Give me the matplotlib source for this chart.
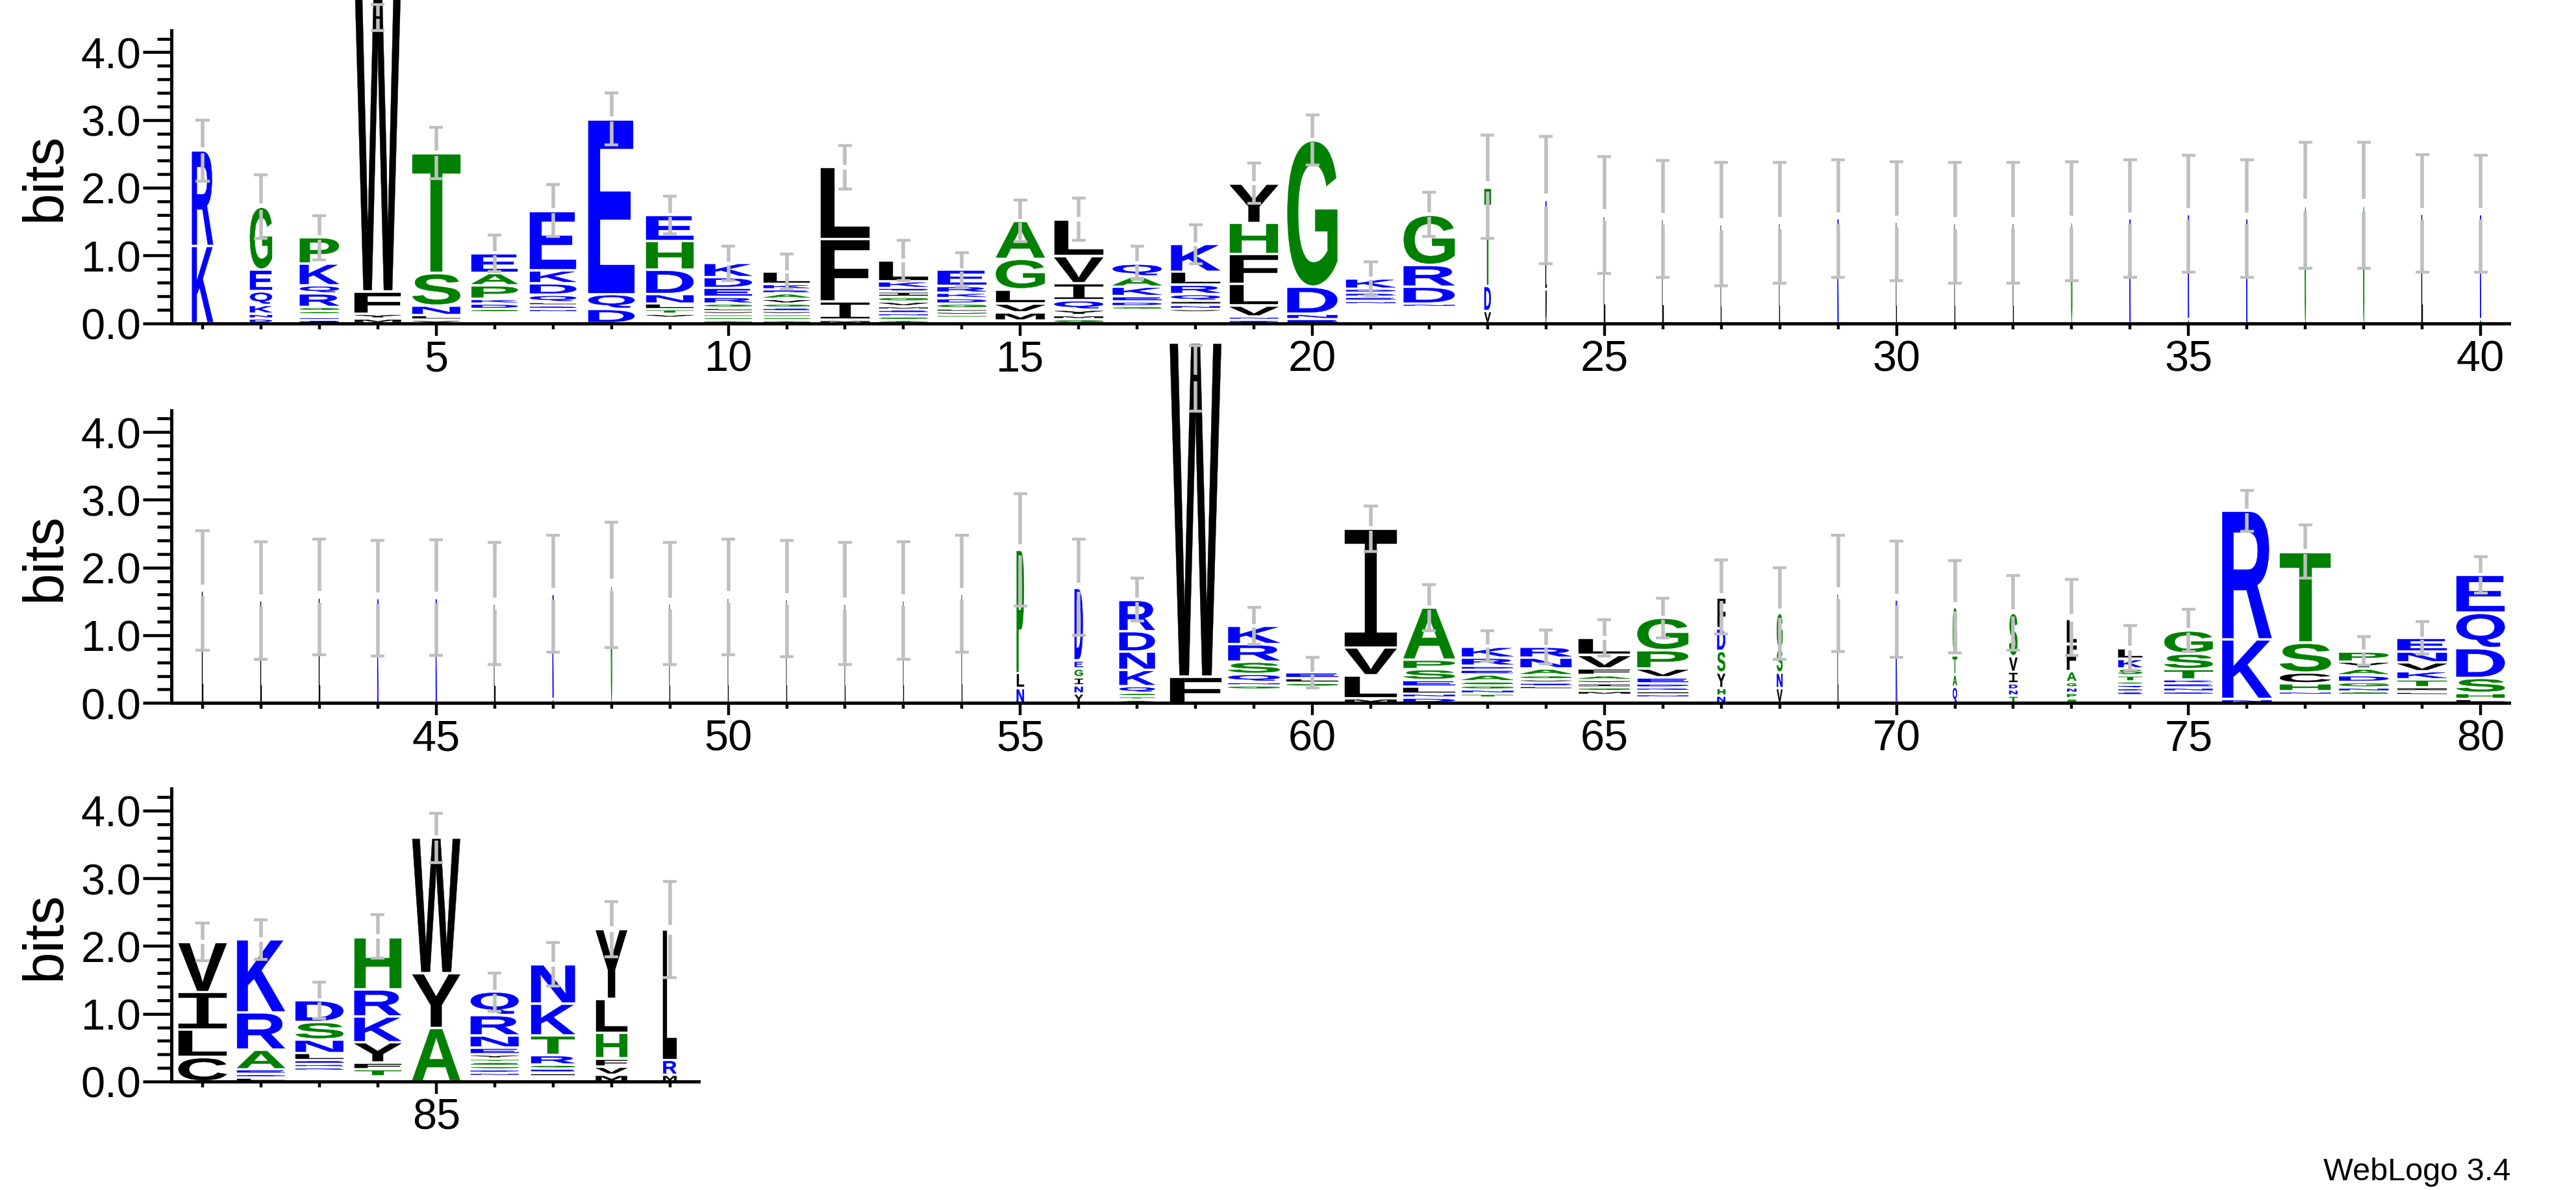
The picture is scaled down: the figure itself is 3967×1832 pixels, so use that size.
import matplotlib
matplotlib.use("Agg")
import matplotlib.pyplot as plt
from matplotlib.textpath import TextPath
from matplotlib.patches import PathPatch
from matplotlib.font_manager import FontProperties
from matplotlib.transforms import Affine2D
from matplotlib.ticker import MultipleLocator, FormatStrFormatter

plt.rcParams["font.family"] = ["Liberation Sans", "DejaVu Sans"]

# ---- data: stacks bottom -> top, per logo row ----
row1_start = 1
row1_letters = [
    "KR", "DNKQEG", "EDASGRQKP", "MYFW", "VLNST", "ATVNGDKPAE", "AVTGNRLQDKE",
    "DQE", "ASVTLNDHE", "ASTVLGREDK", "ASTVEGVARKL", "MIFL", "ASNEMVGIEKL",
    "ASTVLGDKRE", "IMVLGA", "GMYQIVL", "ASTNVGDEKAQ", "ASTGVNIQRLK", "DNVLFHY",
    "ENDG", "ASTGVMYNERDK", "ASTVGENDRG", "VDT", "VLIRK",
    "L", "L", "L", "L", "K", "L", "L", "L", "G", "K", "AK", "K", "G", "G", "L", "AK",
]
row1_heights = [
    [1.14, 1.41], [.07, .07, .13, .2, .32, .93],
    [.045, .045, .04, .05, .06, .2, .12, .32, .39], [.07, .07, .33, 4.6],
    [.05, .07, .14, .48, 1.77], [.04, .04, .04, .04, .05, .08, .07, .2, .18, .29],
    [.04, .04, .04, .04, .05, .05, .05, .11, .17, .19, .88], [.21, .22, 2.58],
    [.04, .04, .06, .07, .08, .14, .36, .42, .39],
    [.045, .045, .045, .045, .05, .06, .1, .13, .16, .21],
    [.045, .045, .045, .045, .05, .06, .07, .08, .06, .08, .18], [.05, .27, .92, 1.07],
    [.05, .05, .05, .05, .05, .07, .07, .08, .05, .1, .31],
    [.04, .04, .045, .045, .05, .07, .08, .08, .1, .24], [.04, .12, .13, .21, .45, .56],
    [.06, .06, .08, .14, .25, .4, .54],
    [.04, .04, .04, .04, .04, .05, .07, .08, .14, .15, .19],
    [.04, .04, .04, .04, .05, .06, .06, .1, .14, .19, .41],
    [.05, .05, .16, .32, .44, .46, .58], [.06, .08, .4, 2.16],
    [.04, .04, .04, .04, .04, .04, .04, .05, .06, .06, .06, .15],
    [.04, .04, .04, .04, .04, .04, .05, .25, .32, .74], [.18, .37, 1.45],
    [.5, .38, .3, .3, .34],
    [1.59], [1.54], [1.46], [1.48], [1.55], [1.50], [1.48], [1.48], [1.50], [1.55],
    [.06, 1.55], [1.55], [1.74], [1.74], [1.62], [.06, 1.55],
]
row1_width = [.41, .43, .76, .9, .93, .9, .9, .9, .92, .92, .9, .95, .95, .95, .95, .95,
              .95, .95, .94, .97, .96, .99, .125, .02] + [.02] * 16
row1_err_low = [2.10, 1.25, .94, 4.32, 2.13, .76, 1.28, 2.63, 1.32, .63, .50, 1.98, .63, .54,
                1.20, 1.22, .65, .88, 1.77, 2.34, .41, 1.28, 1.25, .88, .73, .68, .55, .59,
                .68, .63, .59, .59, .63, .68, .75, .68, .81, .81, .75, .75]
row1_err_high = [3.00, 2.19, 1.59, 4.70, 2.89, 1.30, 2.05, 3.40, 1.88, 1.14, 1.02, 2.62, 1.22,
                 1.04, 1.82, 1.85, 1.14, 1.45, 2.36, 3.07, .91, 1.93, 2.78, 2.76, 2.46, 2.40,
                 2.37, 2.37, 2.41, 2.38, 2.37, 2.37, 2.38, 2.41, 2.48, 2.41, 2.67, 2.67, 2.49,
                 2.48]

row2_start = 41
row2_letters = [
    "L", "L", "L", "K", "K", "L", "AK", "G", "L", "L", "L", "L", "L", "L",
    "NLP", "YNIGED", "ATGQKNDR", "FW", "ATVELGNQSRK", "ASTVNDGLE", "MLVI", "DNLESPA",
    "AVTNGSAEDRK", "ASTVQLEVGANR", "ASTMGIYAFVL", "ATNLKDEVPG", "NHYSDF", "VNSG",
    "L", "K", "QATG", "TNDIVS", "SPNGAFL", "AVNEDQGTSKL", "AVMDNEKTSG", "NKR",
    "AGVNHCST", "ATVSNGDAYP", "AGSLITKVNE", "LHSDQE",
]
row2_heights = [
    [1.66], [1.52], [1.56], [1.55], [1.55], [1.47], [.06, 1.55], [1.74], [1.47], [1.56],
    [1.54], [1.47], [1.52], [1.61],
    [.22, .22, 1.82], [.14, .12, .12, .13, .12, 1.07], [.05, .05, .05, .1, .24, .27, .3, .46],
    [.39, 4.93], [.04, .04, .04, .04, .04, .06, .05, .12, .18, .26, .27],
    [.04, .04, .04, .04, .04, .04, .06, .07, .08], [.07, .34, .41, 1.75],
    [.08, .06, .1, .1, .16, .14, .77], [.04, .04, .06, .06, .06, .06, .1, .07, .06, .12, .16],
    [.04, .04, .04, .04, .04, .05, .05, .05, .06, .1, .16, .16],
    [.04, .04, .04, .06, .05, .06, .05, .07, .1, .2, .25],
    [.04, .04, .05, .05, .05, .06, .09, .13, .27, .48], [.11, .11, .23, .32, .33, .46],
    [.22, .23, .35, .53], [1.62], [1.53], [.24, .18, .28, .72], [.11, .09, .09, .17, .23, .64],
    [.07, .08, .08, .08, .16, .4, .37], [.04, .04, .04, .05, .05, .05, .05, .09, .1, .14, .16],
    [.04, .04, .04, .05, .06, .06, .06, .15, .23, .34], [.06, .88, 1.9],
    [.04, .04, .04, .05, .12, .16, .44, 1.34], [.04, .04, .04, .05, .06, .08, .1, .1, .1, .15],
    [.04, .04, .04, .05, .06, .12, .12, .13, .16, .2], [.06, .09, .22, .44, .52, .56],
]
row2_width = [.02] * 14 + [.14, .16, .69, 1.0, 1.0, 1.0, 1.0, 1.0, 1.0, .99, 1.0, .99, .155,
                           .11, .02, .02, .08, .16, .18, .46, .94, .96, .99, .96, .96, .94]
row2_err_low = [.78, .65, .71, .69, .70, .57, .75, .82, .57, .71, .68, .57, .65, .75, 1.43, 1.0,
                1.21, 4.31, .87, .22, 2.24, 1.07, .62, .58, .69, .96, 1.02, .65, .76, .67, .74,
                .78, .70, .48, .76, 2.53, 1.84, .56, .72, 1.62]
row2_err_high = [2.54, 2.38, 2.42, 2.40, 2.41, 2.37, 2.48, 2.67, 2.37, 2.42, 2.40, 2.37, 2.38,
                 2.48, 3.09, 2.42, 1.84, 5.28, 1.41, .67, 2.91, 1.75, 1.07, 1.08, 1.23, 1.55,
                 2.11, 2.0, 2.48, 2.39, 2.10, 1.88, 1.82, 1.14, 1.38, 3.14, 2.63, .98, 1.20, 2.16]

row3_start = 81
row3_letters = ["CLIV", "LDEARK", "ATVGRKELNSD", "AVTFYKRH", "AYW", "AVNDGSTYENRQ",
                "AVLEGRTKN", "MVFHLY", "MRL"]
row3_heights = [
    [.36, .41, .55, .74], [.06, .05, .07, .29, .55, 1.08],
    [.04, .04, .04, .04, .05, .05, .06, .1, .2, .26, .32], [.04, .04, .1, .1, .3, .38, .4, .77],
    [.79, .81, 2.0], [.04, .04, .05, .05, .05, .06, .05, .06, .1, .18, .3, .35],
    [.04, .04, .05, .06, .06, .14, .29, .47, .58], [.1, .12, .12, .38, .5, 1.03], [.1, .22, 1.92],
]
row3_width = [.94, .93, .93, .91, .93, .93, .85, .61, .26]
row3_err_low = [1.78, 1.80, .93, 1.82, 3.23, 1.04, 1.41, 1.84, 1.53]
row3_err_high = [2.34, 2.39, 1.47, 2.46, 3.96, 1.60, 2.05, 2.66, 2.95]

# hydrophobicity colour scheme
colors = {}
for c in "RKDENQ":
    colors[c] = "#0000ff"
for c in "SGHTAP":
    colors[c] = "#008000"
for c in "YVMCLFIW":
    colors[c] = "#000000"
GREY = "#bfbfbf"

letter_font = FontProperties(family="Liberation Sans", weight="bold")
serif_i_font = FontProperties(family="Liberation Mono", weight="normal")
glyphs = {}


def get_glyph(ch):
    if ch not in glyphs:
        fp = serif_i_font if ch == "I" else letter_font
        p = TextPath((0, 0), ch, size=1, prop=fp)
        glyphs[ch] = (p, p.get_extents())
    return glyphs[ch]


def draw_letter(ax, ch, x, y0, w, h):
    pad = 0.02
    if h - 2 * pad <= 0:
        return
    p, ext = get_glyph(ch)
    t = (Affine2D().translate(-ext.x0, -ext.y0)
         .scale(w / ext.width, (h - 2 * pad) / ext.height)
         .translate(x - w / 2, y0 + pad))
    ax.add_patch(PathPatch(t.transform_path(p), facecolor=colors[ch], edgecolor=colors[ch],
                           linewidth=0.3, clip_on=False, zorder=2))


def draw_errorbar(ax, x, lo, hi):
    c = (lo + hi) / 2
    gap = 0.1 * (hi - lo) / 2
    kw = dict(color=GREY, solid_capstyle="butt", clip_on=False, zorder=3)
    ax.plot([x, x], [c + gap, hi], lw=4, **kw)
    ax.plot([x, x], [lo, c - gap], lw=4, **kw)
    ax.plot([x - 0.117, x + 0.117], [hi, hi], lw=3.2, **kw)
    ax.plot([x - 0.117, x + 0.117], [lo, lo], lw=3.2, **kw)


W, H = 3967, 1833
fig = plt.figure(figsize=(W / 100, H / 100), dpi=100)

rows = [
    (row1_start, row1_letters, row1_heights, row1_width, row1_err_low, row1_err_high, 498.6),
    (row2_start, row2_letters, row2_heights, row2_width, row2_err_low, row2_err_high, 1083.3),
    (row3_start, row3_letters, row3_heights, row3_width, row3_err_low, row3_err_high, 1666),
]

unit = 89.95     # px per position
bit_px = 104.3   # px per bit
full_w = 0.88    # stack width of a full column

for start, letters, heights, widths, elo, ehi, base_px in rows:
    n = len(letters)
    left_px = 312 - 0.53 * unit
    width_px = (n - 1 + 1.02) * unit
    ax = fig.add_axes([left_px / W, 1 - base_px / H, width_px / W, 4.32 * bit_px / H])
    ax.set_xlim(start - 0.53, start + n - 1 + 0.49)
    ax.set_ylim(0, 4.32)
    for sp in ("top", "right"):
        ax.spines[sp].set_visible(False)
    for sp in ("left", "bottom"):
        ax.spines[sp].set_linewidth(3.6)
    ax.xaxis.set_major_locator(MultipleLocator(5))
    ax.xaxis.set_minor_locator(MultipleLocator(1))
    ax.yaxis.set_major_locator(MultipleLocator(1))
    ax.yaxis.set_minor_locator(MultipleLocator(0.2))
    ax.yaxis.set_major_formatter(FormatStrFormatter("%.1f"))
    ax.tick_params(axis="y", which="major", length=31.7, width=3.3, pad=2, labelsize=48)
    ax.tick_params(axis="y", which="minor", length=15.8, width=3.3)
    ax.tick_params(axis="x", which="major", length=13.7, width=3.2, pad=4, labelsize=48)
    ax.tick_params(axis="x", which="minor", length=6.5, width=3.2)

    for i in range(n):
        x = start + i
        w = full_w * widths[i]
        y = 0.0
        for ch, h in zip(letters[i], heights[i]):
            draw_letter(ax, ch, x, y, w, h)
            y += h
        draw_errorbar(ax, x, elo[i], ehi[i])

    fig.text(70 / W, 1 - (base_px - 4.32 * bit_px / 2) / H, "bits", rotation=90,
             ha="center", va="center", fontsize=63)

fig.text(3866 / W, 1 - 1817 / H, "WebLogo 3.4", ha="right", va="baseline", fontsize=35)

fig.savefig("out.png", dpi=100)
